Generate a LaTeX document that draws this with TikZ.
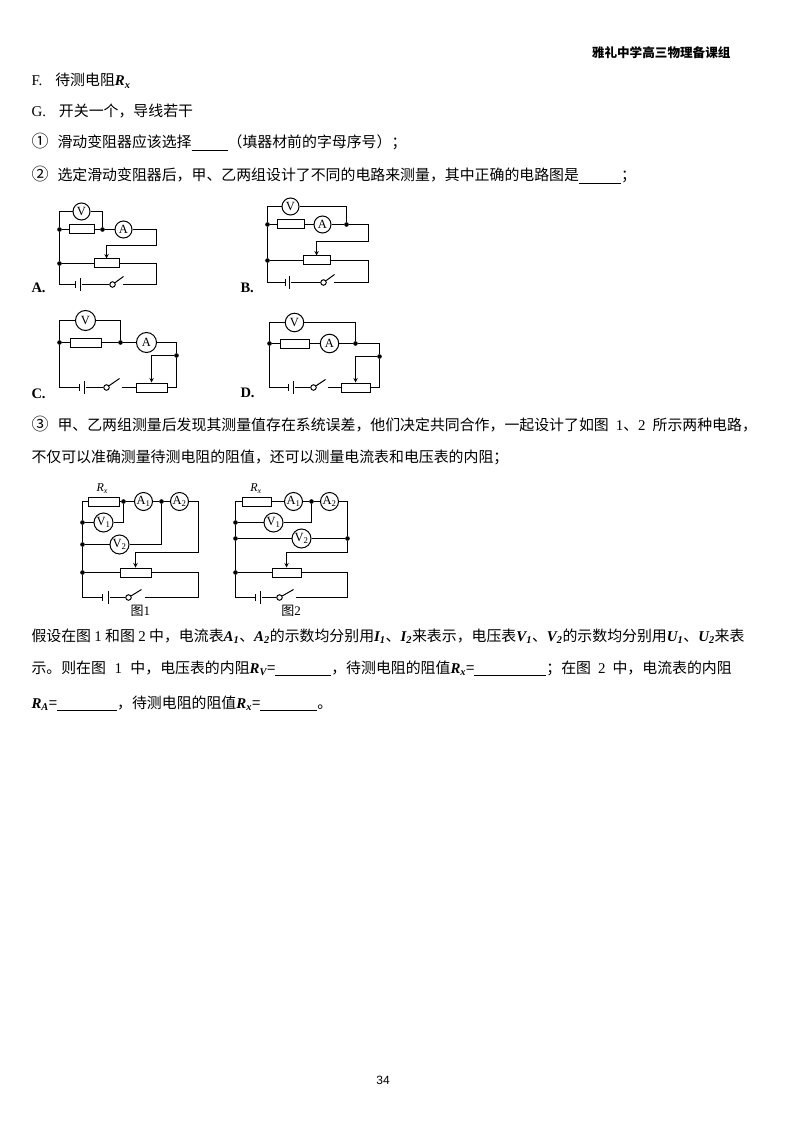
\documentclass[tikz,border=0pt]{standalone}
\usepackage{fontspec}
\setmainfont{Liberation Serif}
\setsansfont{Liberation Sans}
\newfontfamily\cjk{Noto Sans CJK SC}
\usepackage{tikz}
\newcommand{\lat}[1]{{\rmfamily #1}}
\newcommand{\qvar}[2]{{\rmfamily\bfseries\itshape #1\textsubscript{#2}}}
\newcommand{\blankline}[1]{\rule[-2.5pt]{#1pt}{0.8pt}}
\newcommand{\cnum}[1]{{\fontsize{17}{17}\selectfont #1}\hspace{9pt}}
\tikzset{
    txt/.style={anchor=base west, inner sep=0pt, font=\fontsize{14.9}{17}\selectfont\cjk},
    optlabel/.style={anchor=base west, inner sep=0pt, font=\fontsize{14.5}{17}\selectfont\rmfamily\bfseries},
    capt/.style={inner sep=0pt, font=\fontsize{13}{15}\selectfont\cjk},
    metr/.style={circle, draw, fill=white, inner sep=0pt, minimum size=#1, font=\fontsize{12.5}{14}\selectfont\rmfamily},
    metr/.default=17,
    resbox/.style={rectangle, draw, fill=white, inner sep=0pt, minimum width=#1, minimum height=9pt},
    resbox/.default=27,
    jdot/.style={circle, fill=black, inner sep=0pt, minimum size=4.6pt},
    plateb/.style={rectangle, fill=black, inner sep=0pt, minimum width=1pt, minimum height=13pt},
    plates/.style={rectangle, fill=black, inner sep=0pt, minimum width=1pt, minimum height=7pt},
    swt/.style={circle, draw, fill=white, inner sep=0pt, minimum size=5.5pt},
}
\begin{document}
\begin{tikzpicture}[x=1pt, y=-1pt, line width=1pt, line join=miter]
            \useasboundingbox (0,0) rectangle (800,1131);
            \fill[white] (0,0) rectangle (800,1131);

            % text lines
            \node[anchor=base east, inner sep=0pt, font=\fontsize{12.6}{15}\selectfont\cjk\bfseries] (thead) at (731,58) {雅礼中学高三物理备课组};
            \node[txt] (tf) at (31,86) {\lat{F.}\hspace{13pt}待测电阻\qvar{R}{x}};
            \node[txt] (tg) at (31,117) {\lat{G.}\hspace{13pt}开关一个，导线若干};
            \node[txt] (t1) at (31,148) {\cnum{①}滑动变阻器应该选择\blankline{36}（填器材前的字母序号）；};
            \node[txt] (t2) at (31,181) {\cnum{②}选定滑动变阻器后，甲、乙两组设计了不同的电路来测量，其中正确的电路图是\blankline{42}；};
            \node[txt] (t3) at (31,430) {\cnum{③}甲、乙两组测量后发现其测量值存在系统误差，他们决定共同合作，一起设计了如图\hspace{7pt}\lat{1}、\lat{2}\hspace{7pt}所示两种电路，};
            \node[txt] (t4) at (31,462) {不仅可以准确测量待测电阻的阻值，还可以测量电流表和电压表的内阻；};
            \node[txt] (t5) at (31,641) {假设在图 \lat{1} 和图 \lat{2} 中，电流表\qvar{A}{1}、\qvar{A}{2}的示数均分别用\qvar{I}{1}、\qvar{I}{2}来表示，电压表\qvar{V}{1}、\qvar{V}{2}的示数均分别用\qvar{U}{1}、\qvar{U}{2}来表};
            \node[txt] (t6) at (31,673) {示。则在图\hspace{8.5pt}\lat{1}\hspace{8.5pt}中，电压表的内阻\qvar{R}{V}=\blankline{56}，待测电阻的阻值\qvar{R}{x}=\blankline{72}；在图\hspace{7pt}\lat{2}\hspace{7pt}中，电流表的内阻};
            \node[txt] (t7) at (31,708) {\qvar{R}{A}=\blankline{60}，待测电阻的阻值\qvar{R}{x}=\blankline{57}。};
            \node[anchor=base, inner sep=0pt, font=\fontsize{12}{14}\selectfont\sffamily] (tpage) at (383,1084) {34};

            % circuit A
            \node[optlabel] (al) at (31,292) {A.};
            \node[metr] (av) at (81.5,211.5) {V};
            \node[resbox=25] (ar) at (81.5,229.5) {};
            \node[metr] (aa) at (123.5,229.5) {A};
            \node[resbox=25] (arh) at (106.5,263.5) {};
            \node[jdot] (ajt) at (59.5,229.5) {};
            \node[jdot] (ajm) at (102.5,229.5) {};
            \node[jdot] (ajb) at (59.5,263.5) {};
            \node[plates] (ab1) at (75.5,284.5) {};
            \node[plateb] (ab2) at (80.5,284.5) {};
            \node[swt] (asw) at (112.5,284.5) {};
            \coordinate (alv) at (123.5,276.5);
            \coordinate (act) at (122.5,284.5);
            \coordinate (ac1) at (156.5,245.5);
            \coordinate (ac2) at (156.5,263.5);
            \draw (ajt) |- (av);
            \draw (av) -| (ajm);
            \draw (ajt) -- (ar);
            \draw (ar) -- (ajm);
            \draw (ajm) -- (aa);
            \draw (aa) -| (ac1);
            \draw[-stealth] (ac1) -| (arh);
            \draw (ajb) -- (arh);
            \draw (arh) -- (ac2);
            \draw (ac2) |- (act);
            \draw (ajt) -- (ajb);
            \draw (ajb) |- (ab1);
            \draw (ab2) -- (asw);
            \draw (asw) -- (alv);

            % circuit B
            \node[optlabel] (bl) at (240,292) {B.};
            \node[metr] (bv) at (290.5,206.5) {V};
            \node[resbox=27] (br) at (290.5,224.5) {};
            \node[metr] (ba) at (322.5,224.5) {A};
            \node[resbox=27] (brh) at (316.5,260.5) {};
            \node[jdot] (bjt) at (267.5,224.5) {};
            \node[jdot] (bjm) at (346.5,224.5) {};
            \node[jdot] (bjb) at (267.5,260.5) {};
            \node[plates] (bb1) at (285.5,282.5) {};
            \node[plateb] (bb2) at (289.5,282.5) {};
            \node[swt] (bsw) at (323.5,282.5) {};
            \coordinate (blv) at (334.5,274.5);
            \coordinate (bct) at (333.5,282.5);
            \coordinate (bc1) at (368.5,241.5);
            \coordinate (bc2) at (368.5,260.5);
            \draw (bjt) |- (bv);
            \draw (bv) -| (bjm);
            \draw (bjt) -- (br);
            \draw (br) -- (ba);
            \draw (ba) -- (bjm);
            \draw (bjm) -| (bc1);
            \draw[-stealth] (bc1) -| (brh);
            \draw (bjb) -- (brh);
            \draw (brh) -- (bc2);
            \draw (bc2) |- (bct);
            \draw (bjt) -- (bjb);
            \draw (bjb) |- (bb1);
            \draw (bb2) -- (bsw);
            \draw (bsw) -- (blv);

            % circuit C
            \node[optlabel] (cl) at (31,398) {C.};
            \node[metr=20] (cv) at (85.5,320.5) {V};
            \node[resbox=31] (cr) at (85.5,342.5) {};
            \node[metr=20] (ca) at (146.5,342.5) {A};
            \node[resbox=31] (crh) at (151.5,387.5) {};
            \node[jdot] (cjt) at (59.5,342.5) {};
            \node[jdot] (cjm) at (120.5,342.5) {};
            \node[jdot] (cjr) at (176.5,355.5) {};
            \node[plates] (cb1) at (79.5,387.5) {};
            \node[plateb] (cb2) at (84.5,387.5) {};
            \node[swt] (csw) at (106.5,387.5) {};
            \coordinate (clv) at (119.5,378.5);
            \coordinate (cct) at (121.5,387.5);
            \draw (cjt) |- (cv);
            \draw (cv) -| (cjm);
            \draw (cjt) -- (cr);
            \draw (cr) -- (cjm);
            \draw (cjm) -- (ca);
            \draw (ca) -| (cjr);
            \draw[-stealth] (cjr) -| (crh);
            \draw (cjr) |- (crh);
            \draw (cjt) |- (cb1);
            \draw (cb2) -- (csw);
            \draw (csw) -- (clv);
            \draw (cct) -- (crh);

            % circuit D
            \node[optlabel] (dl) at (240,397) {D.};
            \node[metr=18.5] (dv) at (294.5,322.5) {V};
            \node[resbox=29] (dr) at (294.5,343.5) {};
            \node[metr=18.5] (da) at (329.5,343.5) {A};
            \node[resbox=29] (drh) at (355.5,387.5) {};
            \node[jdot] (djt) at (269.5,343.5) {};
            \node[jdot] (djm) at (355.5,343.5) {};
            \node[jdot] (djr) at (379.5,356.5) {};
            \node[plates] (db1) at (288.5,387.5) {};
            \node[plateb] (db2) at (293.5,387.5) {};
            \node[swt] (dsw) at (313.5,387.5) {};
            \coordinate (dlv) at (325.5,379.5);
            \coordinate (dct) at (327.5,387.5);
            \draw (djt) |- (dv);
            \draw (dv) -| (djm);
            \draw (djt) -- (dr);
            \draw (dr) -- (da);
            \draw (da) -- (djm);
            \draw (djm) -| (djr);
            \draw[-stealth] (djr) -| (drh);
            \draw (djr) |- (drh);
            \draw (djt) |- (db1);
            \draw (db2) -- (dsw);
            \draw (dsw) -- (dlv);
            \draw (dct) -- (drh);

            % figure 1
            \node[inner sep=0pt, font=\fontsize{12}{14}\selectfont\rmfamily\itshape] (erl) at (102.3,488.5) {R\textsubscript{x}};
            \node[resbox=31] (er) at (103.5,501.5) {};
            \node[metr=18] (ea1) at (143.5,501.5) {A\textsubscript{1}};
            \node[metr=18] (ea2) at (179.5,501.5) {A\textsubscript{2}};
            \node[metr=19] (ev1) at (103.5,522.5) {V\textsubscript{1}};
            \node[metr=19] (ev2) at (119.5,544.5) {V\textsubscript{2}};
            \node[resbox=31] (erh) at (135.5,572.5) {};
            \node[jdot] (ej1) at (123.5,501.5) {};
            \node[jdot] (ej2) at (161.5,501.5) {};
            \node[jdot] (ejv1) at (82.5,522.5) {};
            \node[jdot] (ejv2) at (82.5,544.5) {};
            \node[jdot] (ejb) at (82.5,572.5) {};
            \node[plates] (eb1) at (102.5,597.5) {};
            \node[plateb] (eb2) at (108.5,597.5) {};
            \node[swt] (esw) at (128.5,597.5) {};
            \coordinate (elv) at (141.5,589.5);
            \coordinate (ect) at (144.5,597.5);
            \coordinate (ec1) at (198.5,552.5);
            \coordinate (ec2) at (198.5,572.5);
            \node[capt] (ecap) at (140.3,610.5) {图\lat{1}};
            \draw (ejv1) |- (er);
            \draw (er) -- (ej1);
            \draw (ej1) -- (ea1);
            \draw (ea1) -- (ej2);
            \draw (ej2) -- (ea2);
            \draw (ea2) -| (ec1);
            \draw[-stealth] (ec1) -| (erh);
            \draw (ejv1) -- (ev1);
            \draw (ev1) -| (ej1);
            \draw (ejv2) -- (ev2);
            \draw (ev2) -| (ej2);
            \draw (ejv1) -- (ejv2);
            \draw (ejv2) -- (ejb);
            \draw (ejb) -- (erh);
            \draw (erh) -- (ec2);
            \draw (ec2) |- (ect);
            \draw (ejb) |- (eb1);
            \draw (eb2) -- (esw);
            \draw (esw) -- (elv);

            % figure 2
            \node[inner sep=0pt, font=\fontsize{12}{14}\selectfont\rmfamily\itshape] (frl) at (256,488.5) {R\textsubscript{x}};
            \node[resbox=29] (fr) at (256.5,501.5) {};
            \node[metr=18] (fa1) at (293.5,501.5) {A\textsubscript{1}};
            \node[metr=18] (fa2) at (329.5,501.5) {A\textsubscript{2}};
            \node[metr=19] (fv1) at (273.5,522.5) {V\textsubscript{1}};
            \node[metr=19] (fv2) at (301.5,538.5) {V\textsubscript{2}};
            \node[resbox=29] (frh) at (286.5,572.5) {};
            \node[jdot] (fj2) at (311.5,501.5) {};
            \node[jdot] (fjv1) at (235.5,522.5) {};
            \node[jdot] (fjv2) at (235.5,538.5) {};
            \node[jdot] (fjr) at (347.5,538.5) {};
            \node[jdot] (fjb) at (235.5,572.5) {};
            \node[plates] (fb1) at (255.5,597.5) {};
            \node[plateb] (fb2) at (260.5,597.5) {};
            \node[swt] (fsw) at (279.5,597.5) {};
            \coordinate (flv) at (293.5,589.5);
            \coordinate (fct) at (295.5,597.5);
            \coordinate (fc1) at (347.5,552.5);
            \coordinate (fc2) at (347.5,572.5);
            \node[capt] (fcap) at (291,610.5) {图\lat{2}};
            \draw (fjv1) |- (fr);
            \draw (fr) -- (fa1);
            \draw (fa1) -- (fj2);
            \draw (fj2) -- (fa2);
            \draw (fa2) -| (fjr);
            \draw (fjr) -- (fc1);
            \draw[-stealth] (fc1) -| (frh);
            \draw (fjv1) -- (fv1);
            \draw (fv1) -| (fj2);
            \draw (fjv2) -- (fv2);
            \draw (fv2) -- (fjr);
            \draw (fjv1) -- (fjv2);
            \draw (fjv2) -- (fjb);
            \draw (fjb) -- (frh);
            \draw (frh) -- (fc2);
            \draw (fc2) |- (fct);
            \draw (fjb) |- (fb1);
            \draw (fb2) -- (fsw);
            \draw (fsw) -- (flv);
        \end{tikzpicture}
\end{document}
